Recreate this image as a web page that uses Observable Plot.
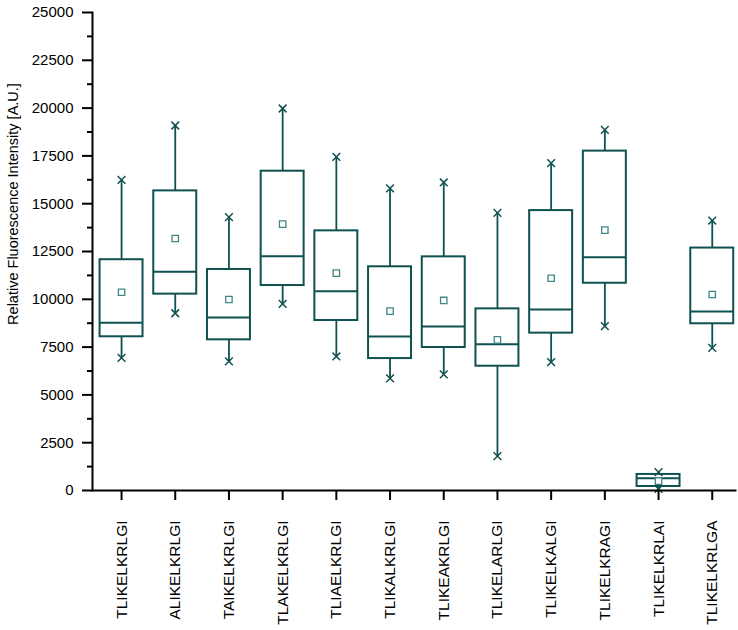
<!DOCTYPE html>
<html>
<head>
<meta charset="utf-8">
<script src="https://cdn.jsdelivr.net/npm/d3@7"></script>
<script src="https://cdn.jsdelivr.net/npm/@observablehq/plot@0.6"></script>
<style>
  html, body { margin: 0; padding: 0; background: #fff; }
  #chart { width: 738px; height: 630px; }
</style>
</head>
<body>
<div id="chart"></div>
<script>
const categories = ["TLIKELKRLGI","ALIKELKRLGI","TAIKELKRLGI","TLAKELKRLGI","TLIAELKRLGI","TLIKALKRLGI","TLIKEAKRLGI","TLIKELARLGI","TLIKELKALGI","TLIKELKRAGI","TLIKELKRLAI","TLIKELKRLGA"];
const lowWhisker  = [6940, 9270, 6750, 9760, 7010, 5860, 6070, 1800, 6710, 8600, 80, 7460];
const q1          = [8040, 10270, 7880, 10720, 8890, 6900, 7480, 6500, 8230, 10840, 210, 8720];
const median      = [8770, 11440, 9050, 12250, 10420, 8050, 8580, 7650, 9470, 12200, 645, 9360];
const mean        = [10370, 13180, 9990, 13930, 11370, 9380, 9940, 7880, 11100, 13620, 490, 10250];
const q3          = [12070, 15670, 11560, 16700, 13580, 11700, 12220, 9500, 14640, 17750, 840, 12680];
const highWhisker = [16250, 19090, 14300, 19980, 17450, 15800, 16110, 14520, 17120, 18860, 960, 14120];
const yTicks = d3.range(0, 25001, 2500);
const yMinorTicks = d3.range(1250, 25000, 2500);

const data = categories.map((name, i) => ({
  name, low: lowWhisker[i], q1: q1[i], median: median[i], mean: mean[i], q3: q3[i], high: highWhisker[i]
}));

const dark = "#0f5050";
const light = "#3f8787";

const plot = Plot.plot({
  width: 738,
  height: 630,
  marginTop: 12,
  marginBottom: 140,
  marginLeft: 92,
  marginRight: 3,
  style: { fontFamily: "Liberation Sans, Arial, sans-serif", fontSize: "15px", color: "#000", background: "#fff" },
  x: { type: "band", domain: categories, range: [94.2, 738.6], paddingInner: 0.2, paddingOuter: 0.1, round: false, label: null },
  y: { domain: [0, 25000], label: null },
  marks: [
    Plot.ruleX(data, { x: "name", y1: "low", y2: "q1", stroke: dark, strokeWidth: 1.8 }),
    Plot.ruleX(data, { x: "name", y1: "q3", y2: "high", stroke: dark, strokeWidth: 1.8 }),
    Plot.barY(data, { x: "name", y1: "q1", y2: "q3", fill: "none", stroke: dark, strokeWidth: 2 }),
    Plot.tickY(data, { x: "name", y: "median", stroke: dark, strokeWidth: 2 }),
    Plot.dot(data, { x: "name", y: "mean", symbol: "square", r: 3.6, stroke: light, strokeWidth: 1.3, fill: "white" }),
    Plot.dot(data, { x: "name", y: "low", symbol: "times", r: 3.6, stroke: dark, strokeWidth: 1.5 }),
    Plot.dot(data, { x: "name", y: "high", symbol: "times", r: 3.6, stroke: dark, strokeWidth: 1.5 }),
    Plot.axisY({ ticks: yTicks, tickSize: 10, tickPadding: 9, tickFormat: d => String(d), strokeWidth: 2, stroke: "#000", fontSize: 15, label: null }),
    Plot.axisY({ ticks: yMinorTicks, tickSize: 5, tickFormat: () => "", strokeWidth: 2, stroke: "#000", label: null }),
    Plot.axisX({ tickSize: 10, tickPadding: 20, tickRotate: -90, strokeWidth: 2, stroke: "#000", fontSize: 15.5, label: null }),
    Plot.frame({ anchor: "left", stroke: "#000", strokeWidth: 2 }),
    Plot.frame({ anchor: "bottom", stroke: "#000", strokeWidth: 2 })
  ]
});

d3.select(plot).append("text")
  .attr("transform", "translate(18,204) rotate(-90)")
  .attr("text-anchor", "middle")
  .attr("font-size", 14.5)
  .attr("fill", "#000")
  .text("Relative Fluorescence Intensity [A.U.]");

document.getElementById("chart").appendChild(plot);
</script>
</body>
</html>
